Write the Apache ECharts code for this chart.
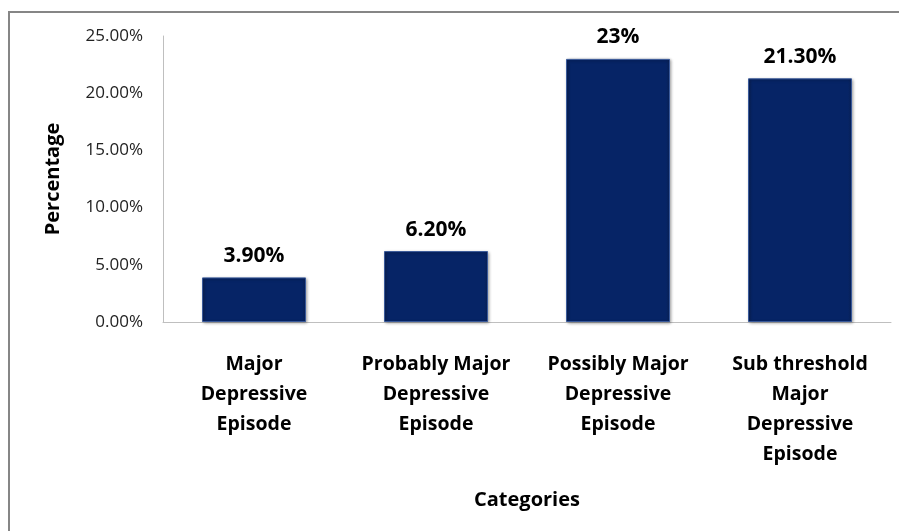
<!DOCTYPE html>
<html>
<head>
<meta charset="utf-8">
<script src="https://cdn.jsdelivr.net/npm/echarts@6/dist/echarts.min.js"></script>
<style>
html,body{margin:0;padding:0;background:#fff;}
#chart{width:899px;height:531px;}
</style>
</head>
<body>
<div id="chart"></div>
<script>
const categories = [
  "Major\nDepressive\nEpisode",
  "Probably Major\nDepressive\nEpisode",
  "Possibly Major\nDepressive\nEpisode",
  "Sub threshold\nMajor\nDepressive\nEpisode"
];
const values = [3.9, 6.2, 23, 21.3];
const valueLabels = ["3.90%", "6.20%", "23%", "21.30%"];
const yTicks = [0, 5, 10, 15, 20, 25];

const chart = echarts.init(document.getElementById('chart'));
const FONT = "'Open Sans', sans-serif";
chart.setOption({
  animation: false,
  backgroundColor: '#fff',
  graphic: [{
    type: 'rect',
    shape: { x: 9, y: 12, width: 1000, height: 1000 },
    style: { fill: 'none', stroke: '#868686', lineWidth: 2 },
    silent: true
  }],
  grid: { left: 163, top: 36, right: 8, bottom: 209 },
  xAxis: {
    type: 'category',
    data: categories,
    name: 'Categories',
    nameLocation: 'middle',
    nameGap: 168,
    nameTextStyle: { fontFamily: FONT, fontSize: 20, fontWeight: 'bold', color: '#000' },
    axisLine: { lineStyle: { color: '#bfbfbf', width: 1 } },
    axisTick: { show: false },
    axisLabel: {
      interval: 0, margin: 27, lineHeight: 30,
      fontFamily: FONT, fontSize: 19.5, fontWeight: 'bold', color: '#000'
    }
  },
  yAxis: {
    type: 'value',
    min: yTicks[0], max: yTicks[yTicks.length - 1], interval: 5,
    name: 'Percentage',
    nameLocation: 'middle',
    nameGap: 100,
    nameTextStyle: { fontFamily: FONT, fontSize: 20, fontWeight: 'bold', color: '#000' },
    axisLine: { show: true, lineStyle: { color: '#bfbfbf', width: 1 } },
    axisTick: { show: false },
    splitLine: { show: false },
    axisLabel: {
      margin: 20,
      fontFamily: FONT, fontSize: 17, color: '#222',
      formatter: v => v.toFixed(2) + '%'
    }
  },
  series: [{
    type: 'bar',
    data: values,
    barWidth: 104,
    itemStyle: {
      color: new echarts.graphic.LinearGradient(0, 0, 1, 0, [
        { offset: 0, color: '#0a2258' },
        { offset: 0.04, color: '#062466' },
        { offset: 0.96, color: '#062466' },
        { offset: 1, color: '#0a2258' }
      ]),
      borderColor: '#3a5a9a',
      borderWidth: 1,
      shadowColor: 'rgba(0,0,0,0.35)',
      shadowBlur: 3,
      shadowOffsetX: 1,
      shadowOffsetY: 1
    },
    label: {
      show: true, position: 'top', distance: 11,
      fontFamily: FONT, fontSize: 21, fontWeight: 'bold', color: '#000',
      formatter: p => valueLabels[p.dataIndex]
    }
  }]
});
</script>
</body>
</html>
